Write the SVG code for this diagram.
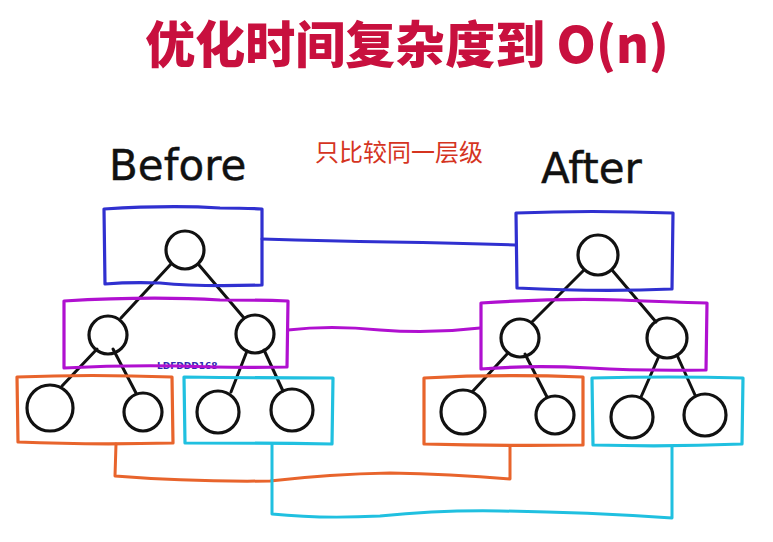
<svg xmlns="http://www.w3.org/2000/svg" width="773" height="542" viewBox="0 0 773 542">
<style>
.title{font-family:"Noto Sans CJK SC","Noto Sans",sans-serif;font-weight:900;font-size:50px;fill:#c8103e}
.sub{font-family:"Noto Sans CJK SC",sans-serif;font-size:24px;fill:#d5341f}
.hand{font-family:"DejaVu Sans",sans-serif;font-size:42px;fill:#111;stroke:#111;stroke-width:0.4}
.wm{font-family:"DejaVu Sans",sans-serif;font-weight:bold;font-size:9px;fill:#2a2ab0}
.box{fill:none;stroke-width:3.2;stroke-linejoin:round;stroke-linecap:round}
.blue{stroke:#3030d0}
.purple{stroke:#b010d0}
.orange{stroke:#e8642c}
.cyan{stroke:#20c0e0}
.n{fill:none;stroke:#111;stroke-width:3.2}
.e{stroke:#111;stroke-width:3;stroke-linecap:round;fill:none}
.c{fill:none;stroke-width:3;stroke-linecap:round;stroke-linejoin:round}
</style>
<text class="title" x="407" y="63" text-anchor="middle">优化时间复杂度到 O(n)</text>
<text class="sub" x="315" y="161">只比较同一层级</text>
<text class="hand" x="109" y="180">Before</text>
<text class="hand" x="541" y="183">After</text>
<text class="wm" x="157" y="369">LDFDDD168</text>

<g id="connectors">
<path class="c blue" d="M262,239 Q330,241 390,242 Q460,243 515,245"/>
<path class="c purple" d="M288,330 Q330,325 380,330 Q430,334 480,328"/>
<path class="c orange" d="M116,444 L115,476 Q190,482 270,481 Q330,474 390,473 Q450,474 510,479 L510,447"/>
<path class="c cyan" d="M272,444 L272,514 Q320,519 380,516 Q440,510 500,511 Q580,512 672,518 L672,447"/>
<path class="e" d="M171,264 L121,318"/>
<path class="e" d="M199,265 L244,318"/>
<path class="e" d="M97,349 L62,386"/>
<path class="e" d="M113,349 L136,393"/>
<path class="e" d="M247,351 L231,392"/>
<path class="e" d="M264,350 L283,391"/>
<path class="e" d="M584,270 L532,322"/>
<path class="e" d="M612,270 L656,322"/>
<path class="e" d="M508,353 L473,391"/>
<path class="e" d="M525,354 L547,397"/>
<path class="e" d="M659,356 L641,397"/>
<path class="e" d="M677,355 L695,395"/>
</g>

<g id="before-level1"><path class="box blue" d="M104,209 Q170,205 220,208 Q245,208 262,209 L262,285 Q200,287 160,283 Q130,282 105,284 Z"/></g>
<g id="before-level2"><path class="box purple" d="M64,301 Q150,296 220,300 Q260,300 288,301 L287,367 Q230,368 180,366 Q120,365 64,368 Z"/></g>
<g id="before-level3a"><path class="box orange" d="M17,377 Q90,374 172,377 L173,443 Q90,445 18,442 Z"/></g>
<g id="before-level3b"><path class="box cyan" d="M184,377 Q260,378 333,378 L332,444 Q260,443 185,443 Z"/></g>
<g id="after-level1"><path class="box blue" d="M516,213 Q590,210 673,213 L672,289 Q600,292 517,288 Z"/></g>
<g id="after-level2"><path class="box purple" d="M481,303 Q560,298 620,300 Q670,302 707,303 L706,370 Q640,371 590,368 Q530,365 481,369 Z"/></g>
<g id="after-level3a"><path class="box orange" d="M424,378 Q500,374 583,377 L583,445 Q500,446 424,444 Z"/></g>
<g id="after-level3b"><path class="box cyan" d="M592,378 Q670,376 743,378 L742,444 Q670,447 593,445 Z"/></g>

<g id="b-root"><circle class="n" cx="185" cy="250" r="19"/></g>
<g id="b-l"><circle class="n" cx="108" cy="335" r="19"/></g>
<g id="b-r"><circle class="n" cx="255" cy="334" r="19"/></g>
<g id="b-ll"><circle class="n" cx="50" cy="408" r="23"/></g>
<g id="b-lr"><circle class="n" cx="143" cy="412" r="19"/></g>
<g id="b-rl"><circle class="n" cx="218" cy="412" r="21"/></g>
<g id="b-rr"><circle class="n" cx="292" cy="410" r="21"/></g>
<g id="a-root"><circle class="n" cx="598" cy="255" r="20"/></g>
<g id="a-l"><circle class="n" cx="520" cy="338" r="19"/></g>
<g id="a-r"><circle class="n" cx="667" cy="338" r="20"/></g>
<g id="a-ll"><circle class="n" cx="463" cy="412" r="22"/></g>
<g id="a-lr"><circle class="n" cx="555" cy="415" r="19"/></g>
<g id="a-rl"><circle class="n" cx="632" cy="417" r="21"/></g>
<g id="a-rr"><circle class="n" cx="705" cy="415" r="21"/></g>
</svg>
